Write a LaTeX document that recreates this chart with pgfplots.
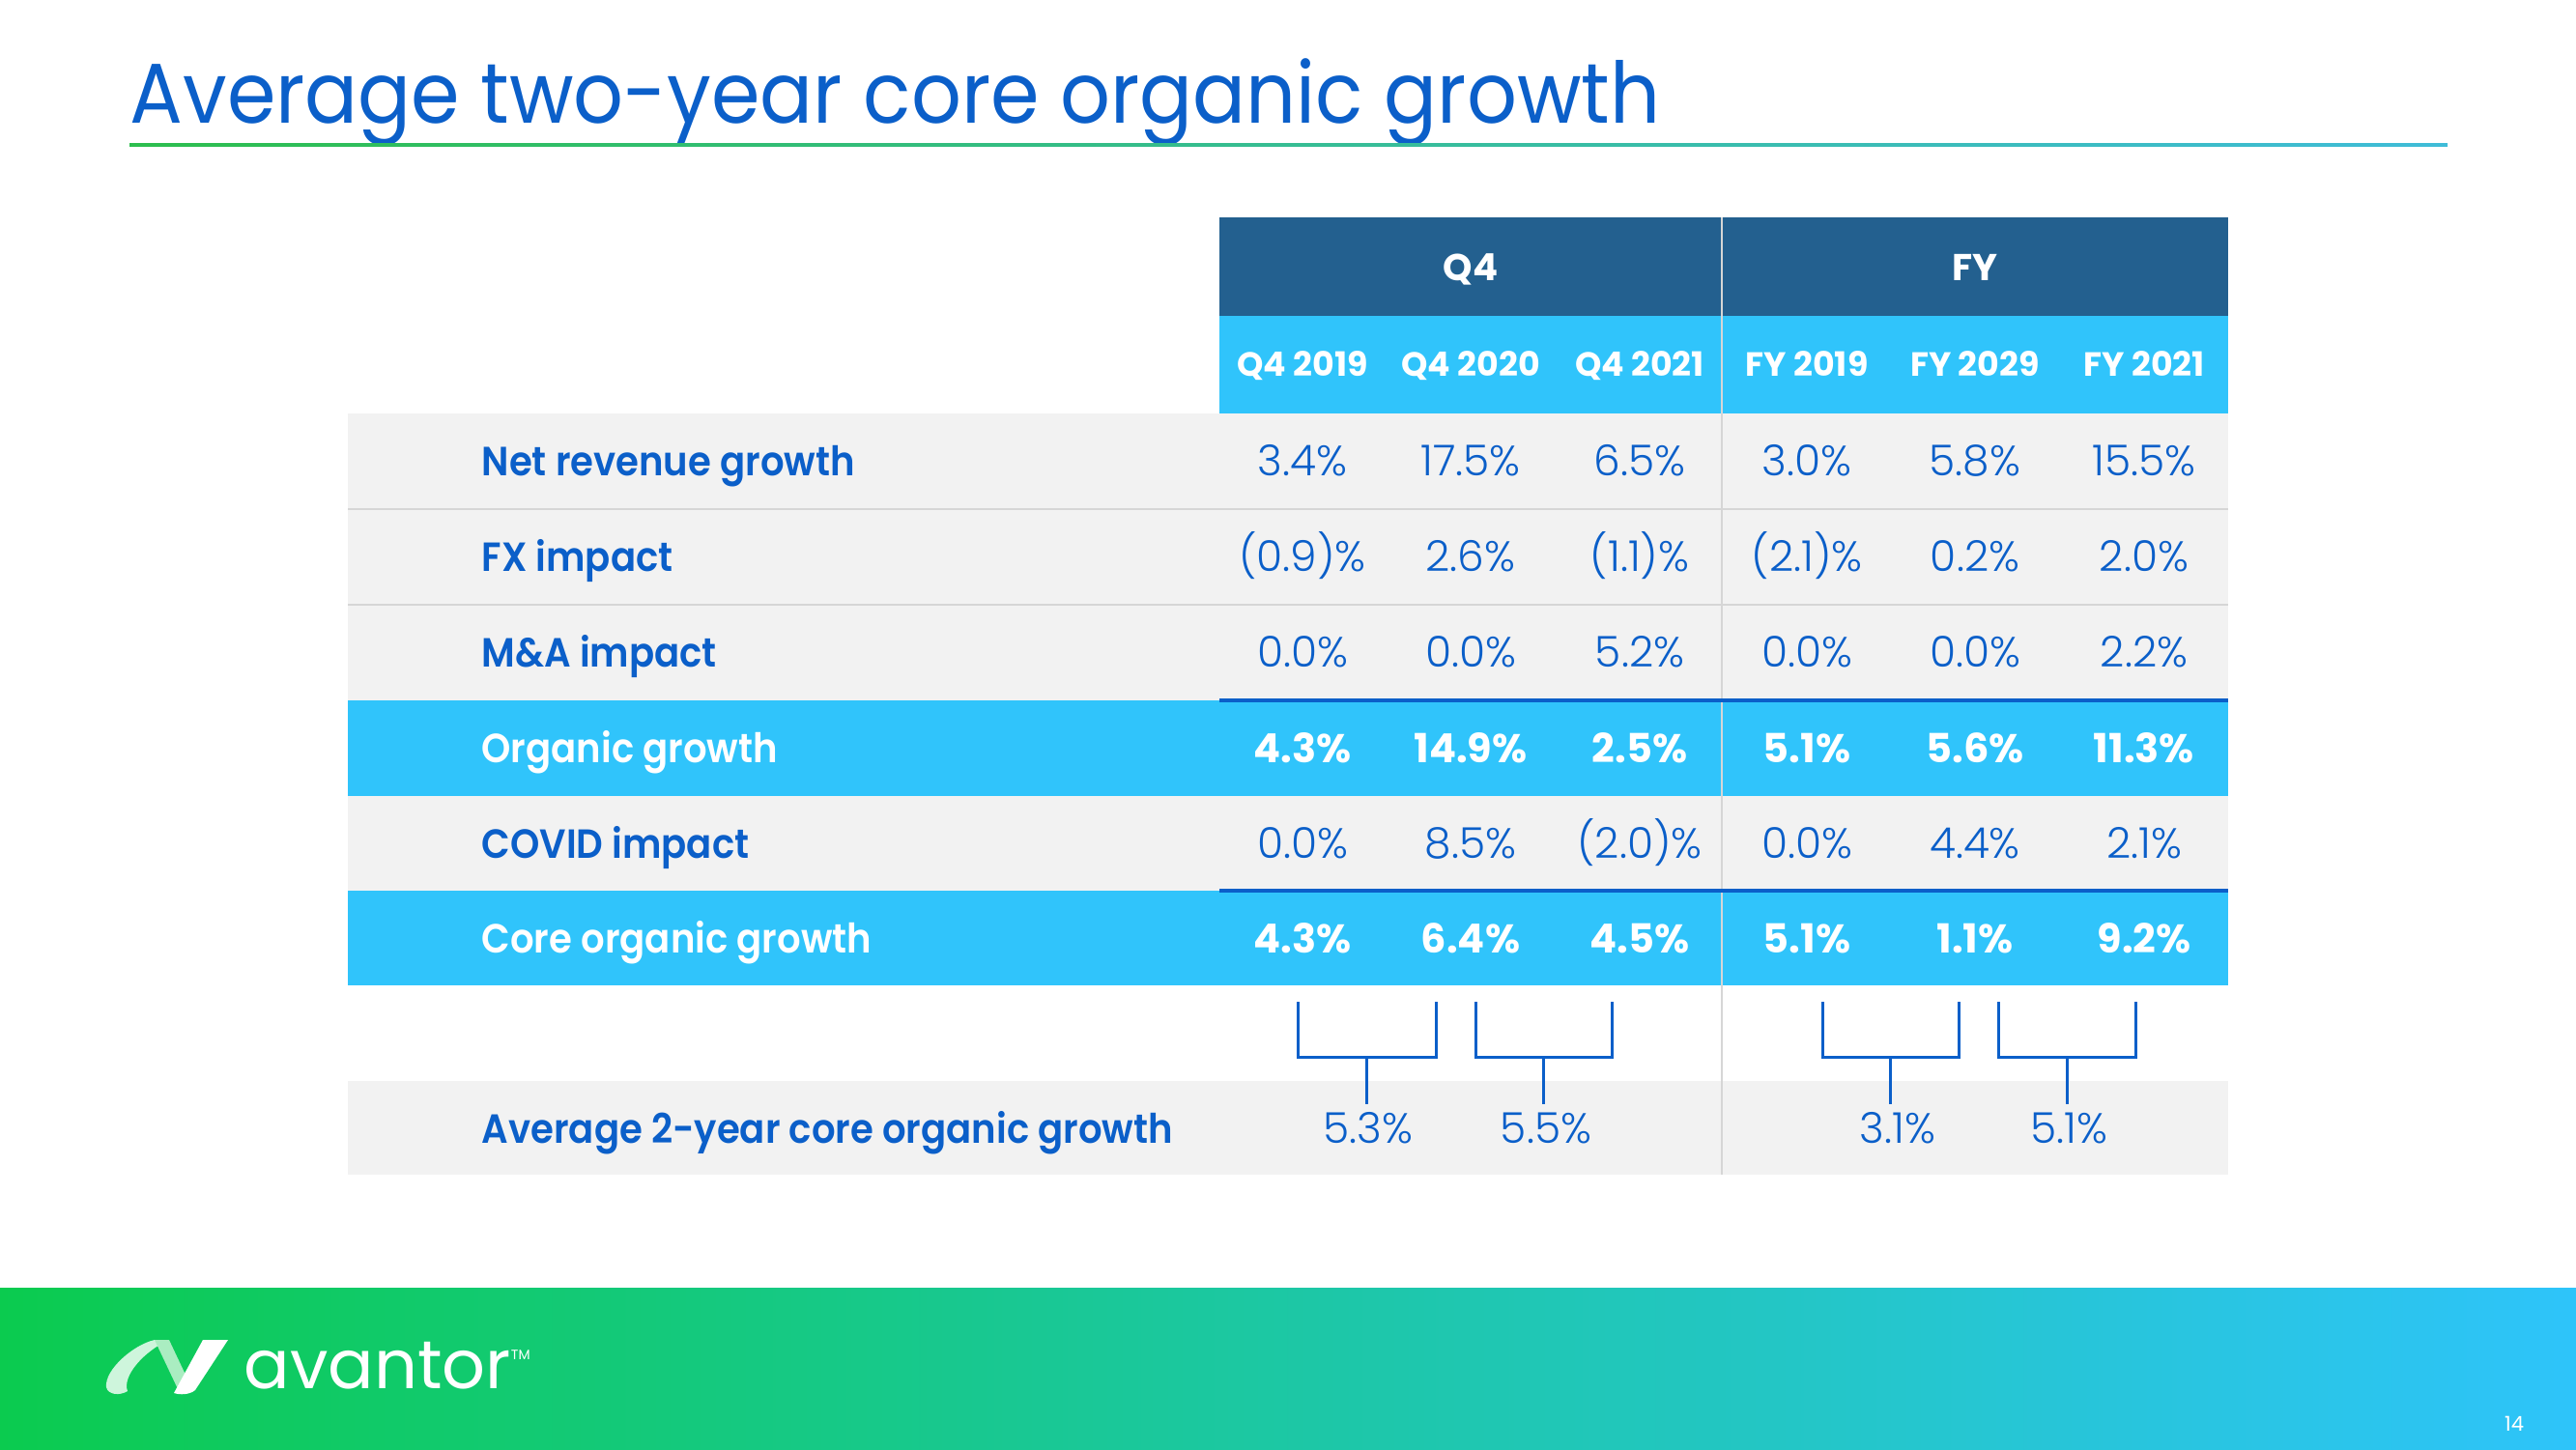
\documentclass[border=0pt]{standalone}
\usepackage{pgfplots}
\pgfplotsset{compat=1.18}
\usepackage{pgfplotstable}
\usepackage{fontspec}
\setmainfont{Poppins}
\newfontfamily\lightfont{Poppins Light}
\newfontfamily\semifont{Poppins SemiBold}[FakeStretch=0.915]
\newfontfamily\titlefont{Poppins}[FakeStretch=0.925]
\pgfkeys{/pgf/number format/assume math mode=true}
\definecolor{tblue}{HTML}{0B5FC9}
\definecolor{hdark}{HTML}{23608F}
\definecolor{cyanb}{HTML}{30C4FB}
\definecolor{rowgray}{HTML}{F2F2F2}
\definecolor{sepgray}{HTML}{D6D6D6}
\definecolor{fgreen}{HTML}{0BCB4F}
\definecolor{fcyan}{HTML}{2EC4FA}
\definecolor{rgreen}{HTML}{2DBE4E}
\definecolor{rteal}{HTML}{3FBCD8}

\newcommand{\fmtpct}[1]{%
  \pgfmathsetmacro{\absv}{abs(#1)}%
  \pgfmathsetmacro{\isneg}{(#1<0)?1:0}%
  \ifdim\isneg pt>0.5pt (\pgfmathprintnumber[fixed,fixed zerofill,precision=1]{\absv})\%%
  \else\pgfmathprintnumber[fixed,fixed zerofill,precision=1]{\absv}\%\fi}

\newcommand{\valfont}{\lightfont\fontsize{12.5}{15}\selectfont}
\newcommand{\valbold}{\bfseries\fontsize{11.8}{14}\selectfont}
\newcommand{\labfont}{\semifont\fontsize{12}{14}\selectfont}
\newcommand{\subfont}{\bfseries\fontsize{9.9}{12}\selectfont}

% columns: Q4 2019, Q4 2020, Q4 2021, FY 2019, FY 2029, FY 2021
\pgfplotstableread{
x    net   fx    ma   org   covid  core
1348 3.4  -0.9  0.0  4.3   0.0    4.3
1522 17.5  2.6  0.0  14.9  8.5    6.4
1697 6.5  -1.1  5.2  2.5  -2.0    4.5
1870 3.0  -2.1  0.0  5.1   0.0    5.1
2044 5.8   0.2  0.0  5.6   4.4    1.1
2219 15.5  2.0  2.2  11.3  2.1    9.2
}\datatable

\pgfplotstableread{
x    avg
1416 5.3
1600 5.5
1964 3.1
2141 5.1
}\avgtable

\begin{document}
\begin{tikzpicture}
\begin{axis}[
  width=26.66cm, height=15cm, scale only axis,
  xmin=0, xmax=2666, ymin=0, ymax=1500, y dir=reverse,
  hide axis, clip=false,
  valrow/.style={only marks, mark=none, point meta=explicit symbolic,
    nodes near coords={\fmtpct{\pgfplotspointmeta}},
    nodes near coords align={anchor=base},
    every node near coord/.append style={font=\valfont, text=tblue, inner sep=0pt}},
  boldrow/.style={only marks, mark=none, point meta=explicit symbolic,
    nodes near coords={\fmtpct{\pgfplotspointmeta}},
    nodes near coords align={anchor=base},
    every node near coord/.append style={font=\valbold, text=white, inner sep=0pt}},
]
% bounding
\path (axis cs:0,0) rectangle (axis cs:2666,1500);
% title
\node[anchor=base west, text=tblue, font=\titlefont\fontsize{25}{30}\selectfont, inner sep=0pt] at (axis cs:134,127) {Average two-year core organic growth};
\shade[left color=rgreen, right color=rteal] (axis cs:134,148.5) rectangle (axis cs:2533,151.5);

% header
\fill[hdark] (axis cs:1262,225) rectangle (axis cs:2306,327);
\fill[cyanb] (axis cs:1262,327) rectangle (axis cs:2306,428);
% rows
\fill[rowgray] (axis cs:360,428) rectangle (axis cs:2306,725);
\fill[cyanb] (axis cs:360,725) rectangle (axis cs:2306,824);
\fill[rowgray] (axis cs:360,824) rectangle (axis cs:2306,922);
\fill[cyanb] (axis cs:360,922) rectangle (axis cs:2306,1020);
\fill[rowgray] (axis cs:360,1119) rectangle (axis cs:2306,1216);
% separators
\draw[sepgray, line width=0.55pt] (axis cs:360,527) -- (axis cs:2306,527);
\draw[sepgray, line width=0.55pt] (axis cs:360,626) -- (axis cs:2306,626);
\draw[sepgray, line width=0.45pt] (axis cs:1782,225) -- (axis cs:1782,1216);
\draw[tblue, line width=1.1pt] (axis cs:1262,725) -- (axis cs:2306,725);
\draw[tblue, line width=1.1pt] (axis cs:1262,922) -- (axis cs:2306,922);

% header text
\node[anchor=base, text=white, font=\bfseries\fontsize{11}{13}\selectfont, inner sep=0pt] at (axis cs:1522,290) {Q4};
\node[anchor=base, text=white, font=\bfseries\fontsize{11}{13}\selectfont, inner sep=0pt] at (axis cs:2044,290) {FY};
\node[anchor=base, text=white, font=\subfont, inner sep=0pt] at (axis cs:1348,389) {Q4 2019};
\node[anchor=base, text=white, font=\subfont, inner sep=0pt] at (axis cs:1522,389) {Q4 2020};
\node[anchor=base, text=white, font=\subfont, inner sep=0pt] at (axis cs:1697,389) {Q4 2021};
\node[anchor=base, text=white, font=\subfont, inner sep=0pt] at (axis cs:1870,389) {FY 2019};
\node[anchor=base, text=white, font=\subfont, inner sep=0pt] at (axis cs:2044,389) {FY 2029};
\node[anchor=base, text=white, font=\subfont, inner sep=0pt] at (axis cs:2219,389) {FY 2021};

% row labels
\node[anchor=base west, text=tblue, font=\labfont, inner sep=0pt] at (axis cs:498,492) {Net revenue growth};
\node[anchor=base west, text=tblue, font=\labfont, inner sep=0pt] at (axis cs:498,591) {FX impact};
\node[anchor=base west, text=tblue, font=\labfont, inner sep=0pt] at (axis cs:498,690) {M\&A impact};
\node[anchor=base west, text=white, font=\labfont, inner sep=0pt] at (axis cs:498,789) {Organic growth};
\node[anchor=base west, text=tblue, font=\labfont, inner sep=0pt] at (axis cs:498,888) {COVID impact};
\node[anchor=base west, text=white, font=\labfont, inner sep=0pt] at (axis cs:498,986) {Core organic growth};
\node[anchor=base west, text=tblue, font=\labfont, inner sep=0pt] at (axis cs:498,1183) {Average 2-year core organic growth};

% values
\addplot[valrow] table[x=x, y expr=492, meta=net] {\datatable};
\addplot[valrow] table[x=x, y expr=591, meta=fx] {\datatable};
\addplot[valrow] table[x=x, y expr=690, meta=ma] {\datatable};
\addplot[boldrow] table[x=x, y expr=789, meta=org] {\datatable};
\addplot[valrow] table[x=x, y expr=888, meta=covid] {\datatable};
\addplot[boldrow] table[x=x, y expr=986, meta=core] {\datatable};
\addplot[valrow] table[x=x, y expr=1183, meta=avg] {\avgtable};

% brackets
\addplot[tblue, line width=0.85pt, mark=none] coordinates {(1343,1037) (1343,1094) (1486,1094) (1486,1037)};
\addplot[tblue, line width=0.85pt, mark=none] coordinates {(1414.5,1094) (1414.5,1143)};
\addplot[tblue, line width=0.85pt, mark=none] coordinates {(1527,1037) (1527,1094) (1668,1094) (1668,1037)};
\addplot[tblue, line width=0.85pt, mark=none] coordinates {(1597.5,1094) (1597.5,1143)};
\addplot[tblue, line width=0.85pt, mark=none] coordinates {(1886,1037) (1886,1094) (2027,1094) (2027,1037)};
\addplot[tblue, line width=0.85pt, mark=none] coordinates {(1956.5,1094) (1956.5,1143)};
\addplot[tblue, line width=0.85pt, mark=none] coordinates {(2068,1037) (2068,1094) (2210,1094) (2210,1037)};
\addplot[tblue, line width=0.85pt, mark=none] coordinates {(2139,1094) (2139,1143)};

% footer
\shade[left color=fgreen, right color=fcyan] (axis cs:0,1333) rectangle (axis cs:2666,1500);
% logo symbol
\fill[white!80!fgreen] (axis cs:110,1436) .. controls (axis cs:108,1418) and (axis cs:138,1392) .. (axis cs:160,1387)
  -- (axis cs:175,1387) .. controls (axis cs:150,1398) and (axis cs:126,1424) .. (axis cs:132,1440)
  .. controls (axis cs:124,1445) and (axis cs:112,1444) .. cycle;
\fill[white!65!fgreen] (axis cs:160,1387) -- (axis cs:175,1387) -- (axis cs:200,1440) -- (axis cs:186,1442) -- cycle;
\fill[white] (axis cs:210,1387) -- (axis cs:236,1387) -- (axis cs:202,1439) .. controls (axis cs:196,1444) and (axis cs:186,1444) .. (axis cs:180,1442) -- cycle;
\node[anchor=base west, text=white, font=\fontsize{20}{24}\selectfont, inner sep=0pt] at (axis cs:252,1437) {avantor\raisebox{0.42em}{\fontsize{4}{5}\selectfont TM}};
\node[anchor=base, text=white, font=\fontsize{6}{7}\selectfont, inner sep=0pt] at (axis cs:2602,1481) {14};
\end{axis}
\end{tikzpicture}
\end{document}
